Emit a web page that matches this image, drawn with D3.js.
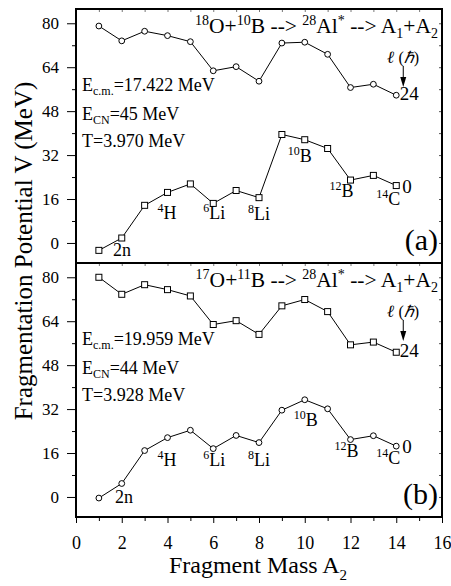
<!DOCTYPE html>
<html>
<head>
<meta charset="utf-8">
<script src="https://cdn.jsdelivr.net/npm/d3@7"></script>
<style>
  body { margin: 0; background: #fff; }
  svg, svg text { font-family: 'Liberation Serif', 'Times New Roman', serif; }
</style>
</head>
<body>
<div id="chart"></div>
<script>
// fragment mass A2
const masses = [1, 2, 3, 4, 5, 6, 7, 8, 9, 10, 11, 12, 13, 14];

// (a) 18O+10B, l = 24 (circles) and l = 0 (squares)
const potA_l24 = [79.0, 73.6, 77.1, 75.5, 73.3, 62.7, 64.2, 58.9, 72.8, 73.1, 68.7, 56.6, 57.8, 53.8];
const potA_l0 = [-2.7, 1.8, 13.7, 18.4, 21.5, 14.4, 19.1, 16.5, 39.5, 37.6, 34.4, 22.9, 24.6, 20.9];

// (b) 17O+11B, l = 24 (squares) and l = 0 (circles)
const potB_l24 = [80.0, 73.8, 77.3, 75.5, 73.2, 62.8, 64.2, 59.2, 69.6, 71.9, 67.5, 55.4, 56.4, 52.7];
const potB_l0 = [-0.4, 4.9, 16.9, 21.6, 24.3, 17.6, 22.4, 19.8, 31.6, 35.4, 32.1, 20.9, 22.3, 18.5];

// fragment labels
const fragMass = [1, 4, 6, 8, 10, 12, 14];
const fragSup = ["", "4", "6", "8", "10", "12", "14"];
const fragSym = ["2n", "H", "Li", "Li", "B", "B", "C"];

const xTicks = [0, 2, 4, 6, 8, 10, 12, 14, 16];
const yTicks = [0, 16, 32, 48, 64, 80];

const FONT = "'Liberation Serif', 'Times New Roman', serif";
const width = 451, height = 586;
const margin = {left: 76, right: 9, top: 9, bottom: 69};
const panelH = (height - margin.top - margin.bottom) / 2;

const svg = d3.select("#chart").append("svg")
    .attr("width", width)
    .attr("height", height)
    .attr("font-family", FONT);

const x = d3.scaleLinear().domain([0, 16]).range([margin.left, width - margin.right]);

const panels = [
  {
    top: margin.top,
    upper: potA_l24, upperShape: "circle",
    lower: potA_l0, lowerShape: "square",
    proj: ["18", "O+", "10", "B --> "],
    ecm: "=17.422 MeV", ecn: "=45 MeV", temp: "T=3.970 MeV",
    tag: "(a)",
    // label offsets from the l=0 point [dx, dy] in px
    offs: [[14, 6], [-10, 27], [-10, 16], [-11, 22], [-17, 22], [-21, 17], [-20, 19]]
  },
  {
    top: margin.top + panelH,
    upper: potB_l24, upperShape: "square",
    lower: potB_l0, lowerShape: "circle",
    proj: ["17", "O+", "11", "B --> "],
    ecm: "=19.959 MeV", ecn: "=44 MeV", temp: "T=3.928 MeV",
    tag: "(b)",
    offs: [[16, 5], [-10, 28], [-10, 17], [-11, 23], [-11, 26], [-16, 17], [-20, 18]]
  }
];

const line = d3.line();

panels.forEach(function (p, i) {
  const y = d3.scaleLinear().domain([-7.3, 85.2]).range([p.top + panelH, p.top]);
  const g = svg.append("g");

  // left axis: major + minor ticks
  const yAx = g.append("g").attr("transform", `translate(${margin.left},0)`)
      .call(d3.axisLeft(y).tickValues(yTicks).tickSize(9).tickPadding(8));
  yAx.attr("font-family", FONT).attr("font-size", 17);
  g.append("g").attr("transform", `translate(${margin.left},0)`)
      .call(d3.axisLeft(y).tickValues([8, 24, 40, 56, 72]).tickSize(4).tickFormat(""));

  // right axis ticks (inward)
  g.append("g").attr("transform", `translate(${width - margin.right},0)`)
      .call(d3.axisLeft(y).tickValues(d3.range(0, 81, 8)).tickSize(3).tickFormat(""))
      .selectAll("line").attr("stroke", "#555");

  // top ticks (inward)
  g.append("g").attr("transform", `translate(0,${p.top})`)
      .call(d3.axisBottom(x).tickValues(d3.range(1, 16)).tickSize(3).tickFormat(""))
      .selectAll("line").attr("stroke", "#777");

  g.selectAll(".domain").remove();

  // frame
  g.append("rect")
      .attr("x", margin.left).attr("y", p.top)
      .attr("width", width - margin.left - margin.right).attr("height", panelH)
      .attr("fill", "none").attr("stroke", "#000").attr("stroke-width", 2);

  // series
  [[p.upper, p.upperShape], [p.lower, p.lowerShape]].forEach(function (s) {
    const pts = masses.map((m, k) => [x(m), y(s[0][k])]);
    g.append("path").attr("d", line(pts))
        .attr("fill", "none").attr("stroke", "#000").attr("stroke-width", 1);
    if (s[1] === "circle") {
      g.selectAll(null).data(pts).join("circle")
          .attr("cx", d => d[0]).attr("cy", d => d[1]).attr("r", 2.9)
          .attr("fill", "#fff").attr("stroke", "#000").attr("stroke-width", 1);
    } else {
      g.selectAll(null).data(pts).join("rect")
          .attr("x", d => d[0] - 3).attr("y", d => d[1] - 3)
          .attr("width", 6).attr("height", 6)
          .attr("fill", "#fff").attr("stroke", "#000").attr("stroke-width", 1);
    }
  });

  // fragment labels
  fragMass.forEach(function (m, k) {
    const v = p.lower[masses.indexOf(m)];
    const t = g.append("text")
        .attr("x", x(m) + p.offs[k][0]).attr("y", y(v) + p.offs[k][1])
        .attr("font-size", 18);
    if (fragSup[k]) {
      t.append("tspan").text(fragSup[k]).attr("font-size", 12).attr("dy", -7);
      t.append("tspan").text(fragSym[k]).attr("dy", 7);
    } else {
      t.text(fragSym[k]);
    }
  });

  // l labels: 24 and 0
  const last = masses.length - 1;
  g.append("text").attr("x", x(14) + 3.5).attr("y", y(p.upper[last]) + 5)
      .attr("font-size", 19).text("24");
  g.append("text").attr("x", x(14) + 6).attr("y", y(p.lower[last]) + 7)
      .attr("font-size", 19).text("0");

  // l (hbar) with arrow
  const ax = x(14) + 7;
  const ell = g.append("text").attr("x", x(14) - 9).attr("y", p.top + 54)
      .attr("font-size", 17);
  ell.append("tspan").text("ℓ").attr("font-weight", "bold").attr("font-style", "italic");
  ell.append("tspan").text(" (").attr("font-size", 16);
  ell.append("tspan").text("ℏ").attr("font-style", "italic").attr("font-size", 16);
  ell.append("tspan").text(")").attr("font-size", 16);
  g.append("line").attr("x1", ax).attr("x2", ax)
      .attr("y1", p.top + 57).attr("y2", p.top + 70)
      .attr("stroke", "#000").attr("stroke-width", 1);
  g.append("path")
      .attr("d", `M${ax - 3},${p.top + 68}L${ax + 3},${p.top + 68}L${ax},${p.top + 78}Z`)
      .attr("fill", "#000");

  // reaction title
  const tt = g.append("text").attr("x", 438).attr("y", p.top + 24)
      .attr("text-anchor", "end").attr("font-size", 21.5);
  tt.append("tspan").text(p.proj[0]).attr("font-size", 14).attr("dy", -8);
  tt.append("tspan").text(p.proj[1]).attr("dy", 8);
  tt.append("tspan").text(p.proj[2]).attr("font-size", 14).attr("dy", -8);
  tt.append("tspan").text(p.proj[3]).attr("dy", 8);
  tt.append("tspan").text("28").attr("font-size", 14).attr("dy", -8);
  tt.append("tspan").text("Al").attr("dy", 8);
  tt.append("tspan").text("*").attr("font-size", 14).attr("dy", -8);
  tt.append("tspan").text(" --> A").attr("dy", 8);
  tt.append("tspan").text("1").attr("font-size", 14).attr("dy", 5);
  tt.append("tspan").text("+A").attr("dy", -5);
  tt.append("tspan").text("2").attr("font-size", 14).attr("dy", 5);

  // energies
  const e1 = g.append("text").attr("x", 82).attr("y", p.top + 82).attr("font-size", 18);
  e1.append("tspan").text("E");
  e1.append("tspan").text("c.m.").attr("font-size", 12).attr("dy", 4);
  e1.append("tspan").text(p.ecm).attr("dy", -4);
  const e2 = g.append("text").attr("x", 82).attr("y", p.top + 111).attr("font-size", 18);
  e2.append("tspan").text("E");
  e2.append("tspan").text("CN").attr("font-size", 12).attr("dy", 4);
  e2.append("tspan").text(p.ecn).attr("dy", -4);
  g.append("text").attr("x", 82).attr("y", p.top + 138).attr("font-size", 18).text(p.temp);

  // panel tag
  g.append("text").attr("x", 438).attr("y", p.top + 241).attr("text-anchor", "end")
      .attr("font-size", 30).text(p.tag);

  if (i === 1) {
    const xAx = g.append("g").attr("transform", `translate(0,${p.top + panelH})`)
        .call(d3.axisBottom(x).tickValues(xTicks).tickSize(6).tickPadding(13));
    xAx.attr("font-family", FONT).attr("font-size", 18);
    g.append("g").attr("transform", `translate(0,${p.top + panelH})`)
        .call(d3.axisBottom(x).tickValues(d3.range(1, 16, 2)).tickSize(4).tickFormat(""));
    g.selectAll(".domain").remove();
  }
});

// axis titles
const xl = svg.append("text").attr("x", 258).attr("y", 573).attr("text-anchor", "middle")
    .attr("font-size", 24);
xl.append("tspan").text("Fragment Mass A");
xl.append("tspan").text("2").attr("font-size", 15).attr("dy", 7);

svg.append("text")
    .attr("transform", "translate(32,251) rotate(-90)")
    .attr("text-anchor", "middle")
    .attr("font-size", 25)
    .text("Fragmentation Potential V (MeV)");
</script>
</body>
</html>
